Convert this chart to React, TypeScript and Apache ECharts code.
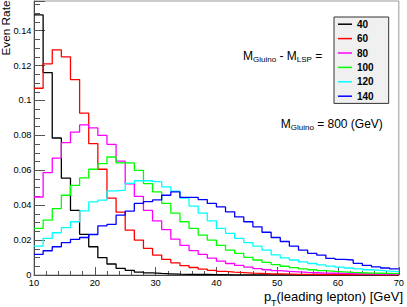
import React, { useEffect, useRef } from "react";
import * as echarts from "echarts";

const FONT = "'Liberation Sans', Arial, Helvetica, sans-serif";

// histogram binning: 40 bins of 1.5 GeV from 10 to 70
const binStart = 10;
const binWidth = 1.5;

const seriesNames = ["40", "60", "80", "100", "120", "140"];
const seriesColors = ["#000000", "#ff0000", "#ff00ff", "#00ff00", "#00ffff", "#0000ff"];

const h40 = [0.149, 0.116, 0.0785, 0.0555, 0.037, 0.0233, 0.0162, 0.0099, 0.0063, 0.0038,
  0.0027, 0.0017, 0.0012, 0.0009, 0.0007, 0.0005, 0.0004, 0.0003, 0.0003, 0.0002,
  0.0002, 0.0001, 0.0001, 0.0001, 0.0001, 0.0001, 0.0001, 0.0001, 0.0001, 0.0001,
  0.0001, 0.0001, 0.0001, 0.0001, 0.0001, 0.0001, 0.0001, 0.0001, 0.0001, 0.0001];
const h60 = [0.107, 0.121, 0.129, 0.125, 0.112, 0.0927, 0.0753, 0.0606, 0.044, 0.036,
  0.0257, 0.02, 0.0152, 0.0114, 0.009, 0.007, 0.0054, 0.0043, 0.0034, 0.0027,
  0.0021, 0.0017, 0.0014, 0.0011, 0.0009, 0.0007, 0.0006, 0.0005, 0.0004, 0.0004,
  0.0003, 0.0003, 0.0003, 0.0002, 0.0002, 0.0002, 0.0002, 0.0001, 0.0001, 0.0001];
const h80 = [0.0447, 0.0587, 0.067, 0.0758, 0.0819, 0.086, 0.0843, 0.08, 0.0748, 0.0652,
  0.0522, 0.045, 0.037, 0.031, 0.026, 0.0205, 0.017, 0.014, 0.0118, 0.0097,
  0.008, 0.0066, 0.0055, 0.0045, 0.0037, 0.003, 0.0025, 0.0021, 0.0018, 0.0015,
  0.0013, 0.0011, 0.001, 0.0009, 0.0008, 0.0007, 0.0006, 0.0005, 0.0005, 0.0004];
const h100 = [0.0267, 0.0314, 0.038, 0.0457, 0.0514, 0.0556, 0.0606, 0.0638, 0.0676, 0.0642,
  0.0642, 0.06, 0.0524, 0.0476, 0.041, 0.0354, 0.0305, 0.0267, 0.0229, 0.02,
  0.017, 0.0143, 0.0124, 0.0101, 0.0086, 0.0072, 0.006, 0.005, 0.0042, 0.0035,
  0.003, 0.0025, 0.0021, 0.0018, 0.0015, 0.0013, 0.0011, 0.001, 0.0009, 0.0008];
const h120 = [0.0166, 0.021, 0.0242, 0.0272, 0.0305, 0.0367, 0.0419, 0.0429, 0.0482, 0.0486,
  0.0525, 0.054, 0.054, 0.0535, 0.0505, 0.048, 0.044, 0.0395, 0.0355, 0.031,
  0.0267, 0.0238, 0.021, 0.0186, 0.0165, 0.0143, 0.0115, 0.0098, 0.0086, 0.0075,
  0.0066, 0.0058, 0.0051, 0.0045, 0.004, 0.0035, 0.003, 0.0026, 0.0022, 0.0019];
const h140 = [0.0118, 0.0139, 0.0162, 0.0185, 0.0204, 0.0215, 0.0232, 0.0282, 0.029, 0.0343,
  0.0366, 0.041, 0.042, 0.043, 0.0457, 0.0476, 0.0445, 0.0445, 0.0432, 0.041,
  0.039, 0.0362, 0.0333, 0.0305, 0.0276, 0.0245, 0.0215, 0.0192, 0.0165, 0.0143,
  0.0124, 0.0114, 0.0095, 0.009, 0.0086, 0.0067, 0.0055, 0.0046, 0.004, 0.0035];

const histograms = [h40, h60, h80, h100, h120, h140];

const xTicks = { min: 10, max: 70, interval: 10 };
const yTicks = { min: 0, max: 0.157, interval: 0.02 };

function stepData(vals: number[]) {
  const pts: [number, number][] = vals.map((v, i) => [binStart + i * binWidth, v]);
  pts.push([binStart + vals.length * binWidth, vals[vals.length - 1]]);
  return pts;
}

export default function App() {
  const ref = useRef<HTMLDivElement>(null);
  useEffect(() => {
    if (!ref.current) return;
    const chart = echarts.init(ref.current, undefined, { renderer: "svg" });
    const txt = (text: string, x: number, y: number, size: number, align = "left", extra: any = {}) => ({
      type: "text",
      x,
      y,
      style: { text, fontSize: size, fontFamily: FONT, fill: "#000", align, verticalAlign: "middle" },
      ...extra,
    });
    chart.setOption({
      animation: false,
      backgroundColor: "#ffffff",
      grid: {
        left: 34,
        right: 4,
        top: 1,
        bottom: 32,
        show: true,
        borderColor: "#999",
        borderWidth: 1,
      },
      legend: {
        data: seriesNames,
        orient: "vertical",
        left: 334,
        top: 17,
        icon: "rect",
        itemWidth: 14,
        itemHeight: 1.5,
        itemGap: 0,
        padding: [0, 15, 0, 4],
        backgroundColor: "#f0f0f0",
        borderColor: "#333",
        borderWidth: 1,
        textStyle: { fontSize: 10, fontWeight: "bold", color: "#000", lineHeight: 14.4, fontFamily: FONT },
      },
      xAxis: {
        type: "value",
        ...xTicks,
        axisLine: { show: true, lineStyle: { color: "#444", width: 1 } },
        axisTick: { show: true, inside: true, length: 8, lineStyle: { color: "#555" } },
        minorTick: { show: true, splitNumber: 5, length: 4, lineStyle: { color: "#555" } },
        splitLine: { show: false },
        minorSplitLine: { show: false },
        axisLabel: { margin: 3, fontSize: 9.3, color: "#000", fontFamily: FONT },
      },
      yAxis: {
        type: "value",
        ...yTicks,
        axisLine: { show: true, lineStyle: { color: "#444", width: 1 } },
        axisTick: { show: true, inside: true, length: 11, lineStyle: { color: "#555" } },
        minorTick: { show: true, splitNumber: 4, length: 6, lineStyle: { color: "#555" } },
        splitLine: { show: false },
        minorSplitLine: { show: false },
        axisLabel: { margin: 2.5, fontSize: 9.3, color: "#000", fontFamily: FONT, showMaxLabel: false },
      },
      series: histograms.map((h, i) => ({
        name: seriesNames[i],
        type: "line",
        step: "end",
        symbol: "none",
        data: stepData(h),
        color: seriesColors[i],
        lineStyle: { color: seriesColors[i], width: 1.3 },
        z: 2 + i,
      })),
      graphic: [
        txt("Even Rate", 5.5, 0.5, 11.8, "right", { rotation: Math.PI / 2 }),
        // M_Gluino - M_LSP =
        txt("M", 243, 56.3, 12),
        txt("Gluino", 253, 59.8, 8),
        txt(" - M", 276.1, 56.3, 12),
        txt("LSP", 296.8, 59.8, 8),
        txt(" =", 311.9, 56.3, 12),
        // M_Gluino = 800 (GeV)
        txt("M", 280.7, 124.2, 12),
        txt("Gluino", 290.7, 127.7, 8),
        txt(" = 800 (GeV)", 313.8, 124.2, 12),
        // x title
        txt("(leading lepton) [GeV]", 403, 296.5, 13, "right"),
        txt("T", 276.5, 302.5, 9, "right"),
        txt("p", 271.2, 296.5, 13, "right"),
      ],
    });
    return () => chart.dispose();
  }, []);
  return (
    <div
      ref={ref}
      style={{ position: "fixed", left: 0, top: 0, width: 407, height: 307, background: "#fff" }}
    />
  );
}
